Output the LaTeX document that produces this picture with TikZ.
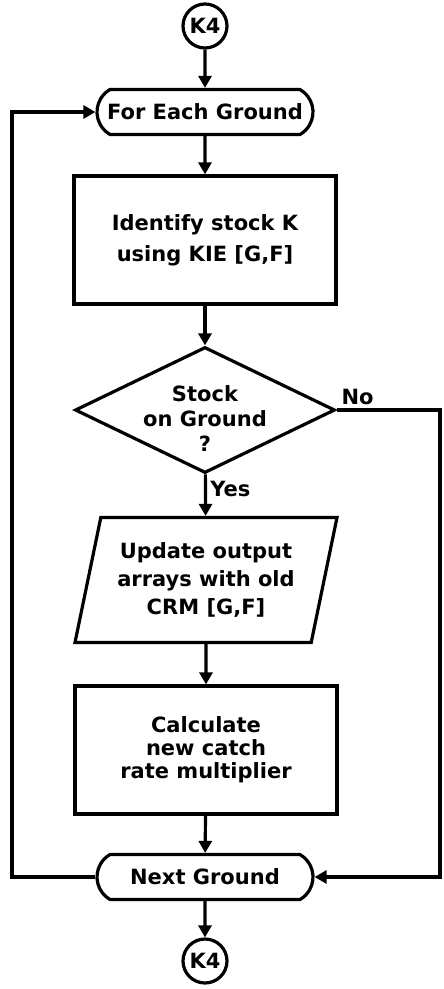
\documentclass[tikz,border=0pt]{standalone}
\usepackage{fontspec}
\setmainfont{DejaVu Sans}
\usetikzlibrary{arrows.meta, shapes.geometric, shapes.misc}

\begin{document}
\begin{tikzpicture}[x=1pt, y=-1pt, line width=3.2pt,
    every node/.style={font=\bfseries\fontsize{21}{28}\selectfont, align=center},
    flow/.style={-{Triangle[width=13pt, length=12pt]}},
    connector/.style={draw, circle, minimum size=44pt, inner sep=0pt},
    terminal/.style={draw, rounded rectangle, rounded rectangle arc length=120, minimum width=216pt, minimum height=45pt, inner sep=0pt},
    process/.style={draw, rectangle, minimum width=262pt, minimum height=128pt, inner sep=0pt},
    decision/.style={draw, diamond, aspect=2.06, minimum width=260pt, minimum height=126pt, inner sep=0pt},
    io/.style={draw, trapezium, trapezium left angle=71, trapezium right angle=109, trapezium stretches body, minimum width=262pt, minimum height=125pt, inner sep=0pt}]
    \useasboundingbox (0,0) rectangle (444,989);

    \node[connector] (k4top) at (205,26) {K4};
    \node[terminal] (each) at (205,112) {For Each Ground};
    \node[process, font=\bfseries\fontsize{21}{31}\selectfont] (ident) at (205,240) {Identify stock K\\using KIE [G,F]};
    \node[decision, font=\bfseries\fontsize{21}{25}\selectfont] (stock) at (205,410)
        {\raisebox{-17pt}[20pt][20pt]{\begin{tabular}{@{}c@{}}Stock\\on Ground\\?\end{tabular}}};
    \node[io] (update) at (206,580) {Update output\\arrays with old\\CRM [G,F]};
    \node[process, font=\bfseries\fontsize{21}{23}\selectfont] (calc) at (206,750) {Calculate\\new catch\\rate multiplier};
    \node[terminal] (next) at (205,877) {Next Ground};
    \node[connector] (k4bot) at (205,961) {K4};

    \coordinate (nocorner) at (440,410);
    \coordinate (loop) at (12,112);

    \draw[flow] (k4top) -- (each);
    \draw[flow] (each) -- (ident);
    \draw[flow] (ident) -- (stock);
    \draw[flow] (stock) -- node[right, pos=0.35] {Yes} (update);
    \draw[flow] (update) -- (calc);
    \draw[flow] (calc) -- (next);
    \draw[flow] (next) -- (k4bot);

    % the two ways back round the loop
    \draw[flow] (stock.east) -- node[above right, pos=0] {No} (nocorner) |- (next.east);
    \draw[flow] (next.west) -| (loop) -- (each.west);
\end{tikzpicture}
\end{document}
